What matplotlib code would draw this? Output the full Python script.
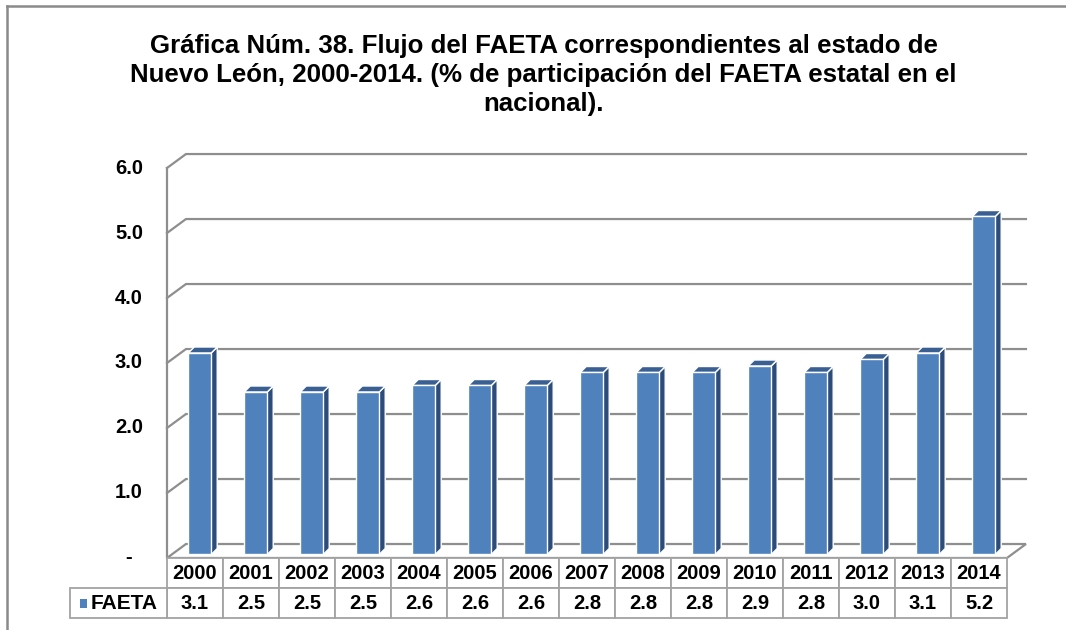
import matplotlib
matplotlib.use("Agg")
import matplotlib.pyplot as plt
from matplotlib.patches import Polygon, Rectangle

plt.rcParams['font.family'] = ['Liberation Sans', 'DejaVu Sans']
plt.rcParams['font.weight'] = 'bold'

years = ['2000', '2001', '2002', '2003', '2004', '2005', '2006', '2007',
         '2008', '2009', '2010', '2011', '2012', '2013', '2014']
faeta = [3.1, 2.5, 2.5, 2.5, 2.6, 2.6, 2.6, 2.8, 2.8, 2.8, 2.9, 2.8, 3.0, 3.1, 5.2]
value_labels = ['3.1', '2.5', '2.5', '2.5', '2.6', '2.6', '2.6', '2.8',
                '2.8', '2.8', '2.9', '2.8', '3.0', '3.1', '5.2']
yticks = [0, 1, 2, 3, 4, 5, 6]
ytick_labels = ['-', '1.0', '2.0', '3.0', '4.0', '5.0', '6.0']
series_name = 'FAETA'
title = ('Gráfica Núm. 38. Flujo del FAETA correspondientes al estado de\n'
         'Nuevo León, 2000-2014. (% de participación del FAETA estatal en el\n'
         'nacional).')

bar_face = '#4F81BD'
bar_side = '#2C4D7A'
bar_top = '#3A5F93'
grid_c = '#8E8E8E'
table_c = '#A3A3A3'

fig = plt.figure(figsize=(10.66, 6.30), dpi=100)
ax = fig.add_axes([0, 0, 1, 1])
ax.set_xlim(-3.482, 15.554)
ax.set_ylim(-1.108, 8.585)
ax.axis('off')

n = len(years)
left, right = -0.5, n - 0.5
# oblique offset of the back wall and of the bars
dx, dy = 0.339, 0.215
bdx, bdy = 0.085, 0.054
sdx, sdy = 0.107, 0.092
bw = 0.41

# floor
ax.add_patch(Polygon([(left, 0), (right, 0), (right + dx, dy), (left + dx, dy)],
                     closed=True, facecolor='white', edgecolor=grid_c, lw=1.6, zorder=1))
# back wall gridlines + side wall diagonals
for v in yticks[1:]:
    ax.plot([left, left + dx, right + dx], [v, v + dy, v + dy],
            color=grid_c, lw=1.6, zorder=1, solid_joinstyle='miter')
ax.plot([left, left], [0, yticks[-1]], color=grid_c, lw=1.6, zorder=1)

# 3d bars
for i, v in enumerate(faeta):
    x0 = i + bdx - bw / 2
    x1 = i + bdx + bw / 2
    y0 = bdy
    y1 = bdy + v
    ax.add_patch(Polygon([(x1, y0), (x1 + sdx, y0 + sdy), (x1 + sdx, y1 + sdy), (x1, y1)],
                         closed=True, facecolor=bar_side, edgecolor='white', lw=1.0, zorder=3))
    ax.add_patch(Polygon([(x0, y1), (x1, y1), (x1 + sdx, y1 + sdy), (x0 + sdx, y1 + sdy)],
                         closed=True, facecolor=bar_top, edgecolor='white', lw=1.0, zorder=3))
ax.bar([i + bdx for i in range(n)], faeta, width=bw, bottom=bdy,
       color=bar_face, edgecolor='white', lw=1.0, zorder=4)

# y tick labels
for v, lab in zip(yticks, ytick_labels):
    ax.text(-1.18, v, lab, ha='center', va='center', fontsize=14.5, fontweight='bold')

# data table
rh = 0.465
fs = 14.5
for i in range(n):
    ax.add_patch(Rectangle((i - 0.5, -rh), 1, rh, facecolor='white',
                           edgecolor=table_c, lw=1.3, zorder=2))
    ax.add_patch(Rectangle((i - 0.5, -2 * rh), 1, rh, facecolor='white',
                           edgecolor=table_c, lw=1.3, zorder=2))
    ax.text(i, -rh / 2, years[i], ha='center', va='center', fontsize=fs, fontweight='bold')
    ax.text(i, -1.5 * rh, value_labels[i], ha='center', va='center', fontsize=fs, fontweight='bold')
ax.add_patch(Rectangle((-2.232, -2 * rh), 1.732, rh, facecolor='white',
                       edgecolor=table_c, lw=1.3, zorder=2))
ax.add_patch(Rectangle((-2.06, -1.5 * rh - 0.065), 0.14, 0.13,
                       facecolor=bar_face, edgecolor='none', zorder=3))
ax.text(-1.87, -1.5 * rh, series_name, ha='left', va='center', fontsize=15, fontweight='bold')

# title and outer frame
fig.text(0.51, 0.881, title, ha='center', va='center', fontsize=18.6,
         fontweight='bold', linespacing=1.28)
fig.add_artist(plt.Line2D([0.0066, 0.0066], [0, 0.991], color='#8A8A8A', lw=1.8))
fig.add_artist(plt.Line2D([0.0066, 1], [0.991, 0.991], color='#8A8A8A', lw=1.8))

fig.savefig('out.png', dpi=100)
